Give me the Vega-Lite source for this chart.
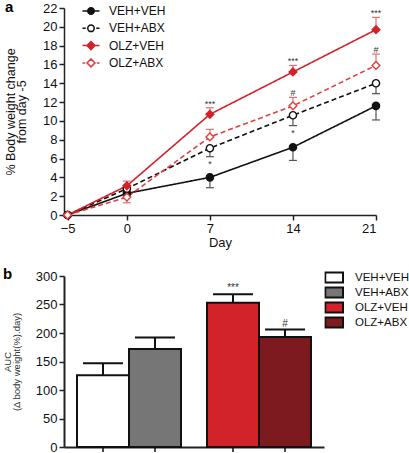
{
  "$schema": "https://vega.github.io/schema/vega-lite/v6.json",
  "background": "white",
  "padding": {"left": 2, "top": 0, "right": 0, "bottom": 0},
  "spacing": 18,
  "resolve": {
    "scale": {"fill": "independent", "stroke": "independent", "color": "independent", "shape": "independent", "strokeDash": "independent"},
    "legend": {"fill": "independent", "shape": "independent", "stroke": "independent", "color": "independent", "strokeDash": "independent"}
  },
  "config": {
    "font": "Liberation Sans",
    "view": {"stroke": null},
    "axis": {"grid": false, "labelOverlap": false, "domainColor": "#222", "domainWidth": 1.5, "tickColor": "#222", "tickWidth": 1.5, "tickSize": 5, "labelColor": "#111", "labelFontSize": 13, "labelPadding": 2, "titleColor": "#111", "titleFontWeight": "normal"},
    "legend": {"padding": 0, "labelFontSize": 12, "labelColor": "#111"},
    "title": {"fontSize": 15, "fontWeight": "bold", "anchor": "start", "frame": "group", "color": "#000"}
  },
  "vconcat": [
    {
      "title": {"text": "a", "dx": -59, "dy": 13, "offset": 0, "baseline": "top"},
      "width": 312,
      "height": 207,
      "data": {"values": [
        {"day": -5, "group": "VEH+VEH", "mean": 0},
        {"day": 0, "group": "VEH+VEH", "mean": 2.3, "err": 1.9},
        {"day": 7, "group": "VEH+VEH", "mean": 4.0, "err": 2.9},
        {"day": 14, "group": "VEH+VEH", "mean": 7.2, "err": 5.8},
        {"day": 21, "group": "VEH+VEH", "mean": 11.6, "err": 10.1},
        {"day": -5, "group": "VEH+ABX", "mean": 0},
        {"day": 0, "group": "VEH+ABX", "mean": 2.8, "err": 2.4},
        {"day": 7, "group": "VEH+ABX", "mean": 7.1, "err": 6.2, "sig": "*"},
        {"day": 14, "group": "VEH+ABX", "mean": 10.6, "err": 9.5, "sig": "*"},
        {"day": 21, "group": "VEH+ABX", "mean": 14.0, "err": 12.9},
        {"day": -5, "group": "OLZ+VEH", "mean": 0},
        {"day": 0, "group": "OLZ+VEH", "mean": 3.1, "err": 3.6},
        {"day": 7, "group": "OLZ+VEH", "mean": 10.7, "err": 11.4, "sig": "***"},
        {"day": 14, "group": "OLZ+VEH", "mean": 15.2, "err": 15.9, "sig": "***"},
        {"day": 21, "group": "OLZ+VEH", "mean": 19.7, "err": 21.0, "sig": "***"},
        {"day": -5, "group": "OLZ+ABX", "mean": 0},
        {"day": 0, "group": "OLZ+ABX", "mean": 1.9, "err": 1.3},
        {"day": 7, "group": "OLZ+ABX", "mean": 8.3, "err": 9.1},
        {"day": 14, "group": "OLZ+ABX", "mean": 11.6, "err": 12.5, "sig": "#"},
        {"day": 21, "group": "OLZ+ABX", "mean": 15.9, "err": 17.1, "sig": "#"}
      ]},
      "encoding": {
        "x": {"field": "day", "type": "quantitative", "scale": {"domain": [-5.3, 21], "nice": false, "zero": false}, "axis": {"values": [-5, 0, 7, 14, 21], "title": "Day", "titleFontSize": 13, "titlePadding": 1}}
      },
      "layer": [
        {
          "mark": {"type": "line", "strokeWidth": 1.6},
          "encoding": {
            "y": {"field": "mean", "type": "quantitative", "scale": {"domain": [0, 22], "nice": false}, "title": ["% Body weight change", "from day -5"], "axis": {"values": [0, 2, 4, 6, 8, 10, 12, 14, 16, 18, 20, 22], "titleFontSize": 12.5, "titleLineHeight": 11.5, "titlePadding": 14}},
            "color": {"field": "group", "type": "nominal", "scale": {"range": ["#e0403f", "#d2232a", "#111111", "#111111"]}, "legend": null},
            "strokeDash": {"field": "group", "type": "nominal", "scale": {"range": [[5, 3], [1, 0], [5, 3], [1, 0]]}, "legend": null}
          }
        },
        {
          "transform": [{"filter": "isValid(datum.err)"}],
          "mark": {"type": "rule", "strokeWidth": 1.2},
          "encoding": {
            "y": {"field": "mean", "type": "quantitative", "title": ["% Body weight change", "from day -5"], "axis": {"values": [0, 2, 4, 6, 8, 10, 12, 14, 16, 18, 20, 22], "titleFontSize": 12.5, "titleLineHeight": 11.5, "titlePadding": 14}},
            "y2": {"field": "err"},
            "color": {"condition": {"test": "indexof(datum.group, 'OLZ') === 0", "value": "#e07272"}, "value": "#555555"}
          }
        },
        {
          "transform": [{"filter": "isValid(datum.err)"}],
          "mark": {"type": "tick", "orient": "horizontal", "size": 8, "thickness": 1.2, "opacity": 1},
          "encoding": {
            "y": {"field": "err", "type": "quantitative", "title": ["% Body weight change", "from day -5"], "axis": {"values": [0, 2, 4, 6, 8, 10, 12, 14, 16, 18, 20, 22], "titleFontSize": 12.5, "titleLineHeight": 11.5, "titlePadding": 14}},
            "color": {"condition": {"test": "indexof(datum.group, 'OLZ') === 0", "value": "#e07272"}, "value": "#555555"}
          }
        },
        {
          "transform": [{"filter": "indexof(datum.group, 'VEH+') === 0"}],
          "mark": {"type": "point", "shape": "circle", "filled": true, "size": 52, "strokeWidth": 1.4, "opacity": 1, "stroke": "#111111"},
          "encoding": {
            "y": {"field": "mean", "type": "quantitative", "title": ["% Body weight change", "from day -5"], "axis": {"values": [0, 2, 4, 6, 8, 10, 12, 14, 16, 18, 20, 22], "titleFontSize": 12.5, "titleLineHeight": 11.5, "titlePadding": 14}},
            "fill": {"condition": {"test": "datum.group === 'VEH+VEH'", "value": "#111111"}, "value": "#ffffff"}
          }
        },
        {
          "transform": [{"filter": "indexof(datum.group, 'OLZ+') === 0"}],
          "mark": {"type": "point", "shape": "diamond", "filled": true, "size": 60, "strokeWidth": 1.4, "opacity": 1},
          "encoding": {
            "y": {"field": "mean", "type": "quantitative", "title": ["% Body weight change", "from day -5"], "axis": {"values": [0, 2, 4, 6, 8, 10, 12, 14, 16, 18, 20, 22], "titleFontSize": 12.5, "titleLineHeight": 11.5, "titlePadding": 14}},
            "fill": {"condition": {"test": "datum.group === 'OLZ+VEH'", "value": "#d2232a"}, "value": "#ffffff"},
            "stroke": {"condition": {"test": "datum.group === 'OLZ+VEH'", "value": "#d2232a"}, "value": "#e0403f"}
          }
        },
        {
          "transform": [{"filter": "false"}],
          "mark": {"type": "point", "filled": true, "opacity": 1, "strokeWidth": 1.5},
          "encoding": {
            "y": {"field": "mean", "type": "quantitative", "title": ["% Body weight change", "from day -5"], "axis": {"values": [0, 2, 4, 6, 8, 10, 12, 14, 16, 18, 20, 22], "titleFontSize": 12.5, "titleLineHeight": 11.5, "titlePadding": 14}},
            "shape": {
              "field": "group", "type": "nominal",
              "scale": {"domain": ["VEH+VEH", "VEH+ABX", "OLZ+VEH", "OLZ+ABX"], "range": [
                "M-1.7,0H1.7M-0.65,0A0.65,0.65,0,1,0,0.65,0A0.65,0.65,0,1,0,-0.65,0Z",
                "M-1.7,0H-1.05M1.05,0H1.7M-0.65,0A0.65,0.65,0,1,0,0.65,0A0.65,0.65,0,1,0,-0.65,0Z",
                "M-1.7,0H1.7M0,-0.8L0.8,0L0,0.8L-0.8,0Z",
                "M-1.7,0H-1.15M1.15,0H1.7M0,-0.8L0.8,0L0,0.8L-0.8,0Z"
              ]},
              "legend": {"title": null, "orient": "none", "legendX": 21, "legendY": -3, "symbolSize": 100, "symbolStrokeWidth": 1.5, "labelOffset": 12, "rowPadding": 3.3, "labelFontSize": 12}
            },
            "fill": {
              "field": "group", "type": "nominal",
              "scale": {"domain": ["VEH+VEH", "VEH+ABX", "OLZ+VEH", "OLZ+ABX"], "range": ["#111111", "#ffffff", "#d2232a", "#ffffff"]},
              "legend": {"title": null, "orient": "none", "legendX": 21, "legendY": -3, "symbolSize": 100, "symbolStrokeWidth": 1.5, "labelOffset": 12, "rowPadding": 3.3, "labelFontSize": 12}
            },
            "stroke": {
              "field": "group", "type": "nominal",
              "scale": {"domain": ["VEH+VEH", "VEH+ABX", "OLZ+VEH", "OLZ+ABX"], "range": ["#111111", "#111111", "#d2232a", "#e0403f"]},
              "legend": {"title": null, "orient": "none", "legendX": 21, "legendY": -3, "symbolSize": 100, "symbolStrokeWidth": 1.5, "labelOffset": 12, "rowPadding": 3.3, "labelFontSize": 12}
            }
          }
        },
        {
          "transform": [{"filter": "datum.sig && datum.err > datum.mean"}],
          "mark": {"type": "text", "baseline": "alphabetic", "dy": -1, "fontSize": 9, "color": "#333"},
          "encoding": {
            "y": {"field": "err", "type": "quantitative", "title": ["% Body weight change", "from day -5"], "axis": {"values": [0, 2, 4, 6, 8, 10, 12, 14, 16, 18, 20, 22], "titleFontSize": 12.5, "titleLineHeight": 11.5, "titlePadding": 14}},
            "text": {"field": "sig"}
          }
        },
        {
          "transform": [{"filter": "datum.sig && datum.err < datum.mean"}],
          "mark": {"type": "text", "baseline": "alphabetic", "dy": 10, "fontSize": 9, "color": "#333"},
          "encoding": {
            "y": {"field": "err", "type": "quantitative", "title": ["% Body weight change", "from day -5"], "axis": {"values": [0, 2, 4, 6, 8, 10, 12, 14, 16, 18, 20, 22], "titleFontSize": 12.5, "titleLineHeight": 11.5, "titlePadding": 14}},
            "text": {"field": "sig"}
          }
        }
      ]
    },
    {
      "title": {"text": "b", "dx": -61, "dy": 12, "offset": 0, "baseline": "top"},
      "width": 260,
      "height": 171,
      "data": {"values": [
        {"drug": "VEH", "treat": "VEH", "group": "VEH+VEH", "auc": 126, "err": 147},
        {"drug": "VEH", "treat": "ABX", "group": "VEH+ABX", "auc": 172, "err": 192},
        {"drug": "OLZ", "treat": "VEH", "group": "OLZ+VEH", "auc": 253, "err": 268, "sig": "***"},
        {"drug": "OLZ", "treat": "ABX", "group": "OLZ+ABX", "auc": 193, "err": 206, "sig": "#"}
      ]},
      "encoding": {
        "x": {"field": "drug", "type": "nominal", "scale": {"domain": ["VEH", "OLZ"], "paddingInner": 0.2, "paddingOuter": 0.1}, "axis": {"labels": false, "ticks": false, "title": null, "domainWidth": 2}},
        "xOffset": {"field": "treat", "type": "nominal", "scale": {"domain": ["VEH", "ABX"], "paddingInner": 0, "paddingOuter": 0}}
      },
      "layer": [
        {
          "mark": {"type": "rule", "strokeWidth": 2, "color": "#111"},
          "encoding": {
            "y": {"field": "auc", "type": "quantitative", "scale": {"domain": [0, 300], "nice": false}, "title": ["AUC", "(Δ body weight(%).day)"], "axis": {"values": [0, 50, 100, 150, 200, 250, 300], "titleFontSize": 9.5, "titleLineHeight": 8.5, "titlePadding": 14, "titleColor": "#333", "domainWidth": 2}},
            "y2": {"field": "err"}
          }
        },
        {
          "mark": {"type": "tick", "orient": "horizontal", "size": 40, "thickness": 2, "color": "#111", "opacity": 1},
          "encoding": {"y": {"field": "err", "type": "quantitative", "title": ["AUC", "(Δ body weight(%).day)"], "axis": {"values": [0, 50, 100, 150, 200, 250, 300], "titleFontSize": 9.5, "titleLineHeight": 8.5, "titlePadding": 14, "titleColor": "#333", "domainWidth": 2}}}
        },
        {
          "mark": {"type": "bar", "stroke": "#111", "strokeWidth": 2, "opacity": 1},
          "encoding": {
            "y": {"field": "auc", "type": "quantitative", "title": ["AUC", "(Δ body weight(%).day)"], "axis": {"values": [0, 50, 100, 150, 200, 250, 300], "titleFontSize": 9.5, "titleLineHeight": 8.5, "titlePadding": 14, "titleColor": "#333", "domainWidth": 2}},
            "fill": {
              "field": "group", "type": "nominal",
              "scale": {"domain": ["VEH+VEH", "VEH+ABX", "OLZ+VEH", "OLZ+ABX"], "range": ["#ffffff", "#767676", "#d2232a", "#7c1a1f"]},
              "legend": {"title": null, "orient": "none", "legendX": 260.5, "legendY": -5, "symbolSize": 100, "symbolStrokeColor": "#111", "symbolStrokeWidth": 2, "labelOffset": 18.5, "rowPadding": 2, "clipHeight": 13, "labelFontSize": 11.5}
            }
          }
        },
        {
          "transform": [{"filter": "false"}],
          "mark": {"type": "point", "filled": true, "opacity": 1, "stroke": "#111", "strokeWidth": 2},
          "encoding": {
            "y": {"field": "auc", "type": "quantitative", "title": ["AUC", "(Δ body weight(%).day)"], "axis": {"values": [0, 50, 100, 150, 200, 250, 300], "titleFontSize": 9.5, "titleLineHeight": 8.5, "titlePadding": 14, "titleColor": "#333", "domainWidth": 2}},
            "fill": {
              "field": "group", "type": "nominal",
              "scale": {"domain": ["VEH+VEH", "VEH+ABX", "OLZ+VEH", "OLZ+ABX"], "range": ["#ffffff", "#767676", "#d2232a", "#7c1a1f"]},
              "legend": {"title": null, "orient": "none", "legendX": 260.5, "legendY": -5, "symbolSize": 100, "symbolStrokeColor": "#111", "symbolStrokeWidth": 2, "labelOffset": 18.5, "rowPadding": 2, "clipHeight": 13, "labelFontSize": 11.5}
            },
            "shape": {
              "field": "group", "type": "nominal",
              "scale": {"domain": ["VEH+VEH", "VEH+ABX", "OLZ+VEH", "OLZ+ABX"], "range": ["M-1.05,-1.0H2.5V1.0H-1.05Z", "M-1.05,-1.0H2.5V1.0H-1.05Z", "M-1.05,-1.0H2.5V1.0H-1.05Z", "M-1.05,-1.0H2.5V1.0H-1.05Z"]},
              "legend": {"title": null, "orient": "none", "legendX": 260.5, "legendY": -5, "symbolSize": 100, "symbolStrokeColor": "#111", "symbolStrokeWidth": 2, "labelOffset": 18.5, "rowPadding": 2, "clipHeight": 13, "labelFontSize": 11.5}
            }
          }
        },
        {
          "mark": {"type": "tick", "orient": "vertical", "size": 5, "thickness": 1.5, "yOffset": 2.5, "color": "#111", "opacity": 1},
          "encoding": {"y": {"datum": 0, "type": "quantitative", "title": ["AUC", "(Δ body weight(%).day)"], "axis": {"values": [0, 50, 100, 150, 200, 250, 300], "titleFontSize": 9.5, "titleLineHeight": 8.5, "titlePadding": 14, "titleColor": "#333", "domainWidth": 2}}}
        },
        {
          "transform": [{"filter": "datum.sig"}],
          "mark": {"type": "text", "baseline": "alphabetic", "dy": -3, "fontSize": 10, "color": "#333"},
          "encoding": {
            "y": {"field": "err", "type": "quantitative", "title": ["AUC", "(Δ body weight(%).day)"], "axis": {"values": [0, 50, 100, 150, 200, 250, 300], "titleFontSize": 9.5, "titleLineHeight": 8.5, "titlePadding": 14, "titleColor": "#333", "domainWidth": 2}},
            "text": {"field": "sig"}
          }
        }
      ]
    }
  ]
}
